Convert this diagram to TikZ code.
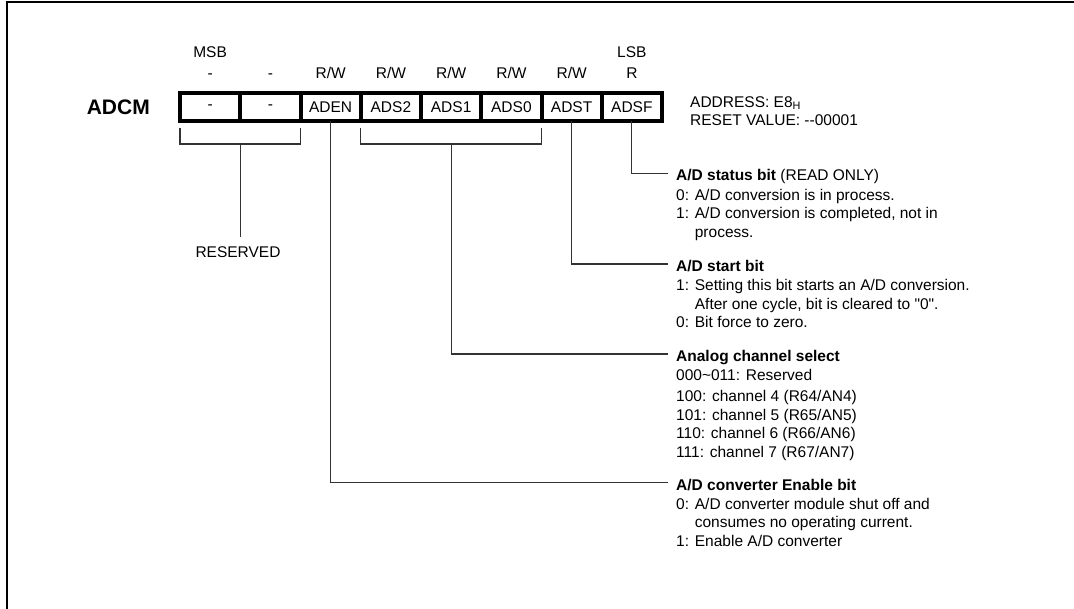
\documentclass[tikz,border=0pt]{standalone}
\usepackage{fontspec}
\setmainfont{Liberation Sans}
\usepackage{tikz}
\usetikzlibrary{positioning}
\tikzset{
  bitcell/.style={draw, line width=4pt, outer sep=0pt, inner sep=0pt, minimum width=60.25pt, minimum height=28pt},
  acc/.style={inner sep=0pt, text height=11pt, text depth=0pt},
  hd/.style={anchor=west, inner sep=0pt, text height=15pt, text depth=0pt},
  desc/.style={inner sep=0pt, align=left},
  lead/.style={draw=black!80, line width=1.1pt}
}

\begin{document}
\begin{tikzpicture}[x=1pt, y=-1pt, every node/.style={font=\fontsize{15.5}{18.5}\selectfont}]
  \useasboundingbox (0,0) rectangle (1074,609);
  \draw[line width=2pt] (7,609) -- (7,2.5) -- (1074,2.5);
  % register cells
  \node[bitcell] (b7) at (210.125,107) {-};
  \node[bitcell, right=0pt of b7] (b6) {-};
  \node[bitcell, right=0pt of b6] (b5) {ADEN};
  \node[bitcell, right=0pt of b5] (b4) {ADS2};
  \node[bitcell, right=0pt of b4] (b3) {ADS1};
  \node[bitcell, right=0pt of b3] (b2) {ADS0};
  \node[bitcell, right=0pt of b2] (b1) {ADST};
  \node[bitcell, right=0pt of b1] (b0) {ADSF};
  \node[font=\fontsize{21}{25}\selectfont\bfseries, inner sep=0pt, left=30pt of b7] (reg) {ADCM};
  % access
  \node[acc, above=14.5pt of b7] (a7) {-};
  \node[acc, above=14.5pt of b6] (a6) {-};
  \node[acc, above=14.5pt of b5] (a5) {R/W};
  \node[acc, above=14.5pt of b4] (a4) {R/W};
  \node[acc, above=14.5pt of b3] (a3) {R/W};
  \node[acc, above=14.5pt of b2] (a2) {R/W};
  \node[acc, above=14.5pt of b1] (a1) {R/W};
  \node[acc, above=14.5pt of b0] (a0) {R};
  \node[acc, above=9pt of a7] (msb) {MSB};
  \node[acc, above=9pt of a0] (lsb) {LSB};
  \node[desc, anchor=north west] (addr) at (690,96) {ADDRESS: E8\textsubscript{H}\\RESET VALUE: -{}-00001};
  % descriptions
  \node[hd] (sfhd) at (676,173.3) {\textbf{A/D status bit} (READ ONLY)};
  \node[desc, below right=7.6pt and 0pt of sfhd.south west] (sfdesc) {0: A/D conversion is in process.\\1: A/D conversion is completed, not in\\\phantom{1: }process.};
  \node[hd] (sthd) at (676,264) {\textbf{A/D start bit}};
  \node[desc, below right=7.6pt and 0pt of sthd.south west] (stdesc) {1: Setting this bit starts an A/D conversion.\\\phantom{1: }After one cycle, bit is cleared to \textquotedbl 0\textquotedbl.\\0: Bit force to zero.};
  \node[hd] (chhd) at (676,354) {\textbf{Analog channel select}};
  \node[desc, below right=7.6pt and 0pt of chhd.south west] (chdesc) {000\textasciitilde011: Reserved\\[2.5pt]100: channel 4 (R64/AN4)\\101: channel 5 (R65/AN5)\\110: channel 6 (R66/AN6)\\111: channel 7 (R67/AN7)};
  \node[hd] (enhd) at (676,482.7) {\textbf{A/D converter Enable bit}};
  \node[desc, below right=7.6pt and 0pt of enhd.south west] (endesc) {0: A/D converter module shut off and\\\phantom{0: }consumes no operating current.\\1: Enable A/D converter};
  \node (rsv) at (238,252) {RESERVED};
  % brackets
  \draw[lead] ([yshift=-7pt]b7.south west) |- ([yshift=-23pt]b6.south east) -- ([yshift=-7pt]b6.south east);
  \draw[lead] ([yshift=-23pt]b7.south east) -- ([yshift=6pt]b7.south east |- rsv.north);
  \draw[lead] ([yshift=-7pt]b4.south west) |- ([yshift=-23pt]b2.south east) -- ([yshift=-7pt]b2.south east);
  % leaders
  \draw[lead] (b0.south) |- ([xshift=-8pt]sfhd.west);
  \draw[lead] (b1.south) |- ([xshift=-8pt]sthd.west);
  \draw[lead] ([yshift=-23pt]b3.south) |- ([xshift=-8pt]chhd.west);
  \draw[lead] (b5.south) |- ([xshift=-8pt]enhd.west);
\end{tikzpicture}
\end{document}
